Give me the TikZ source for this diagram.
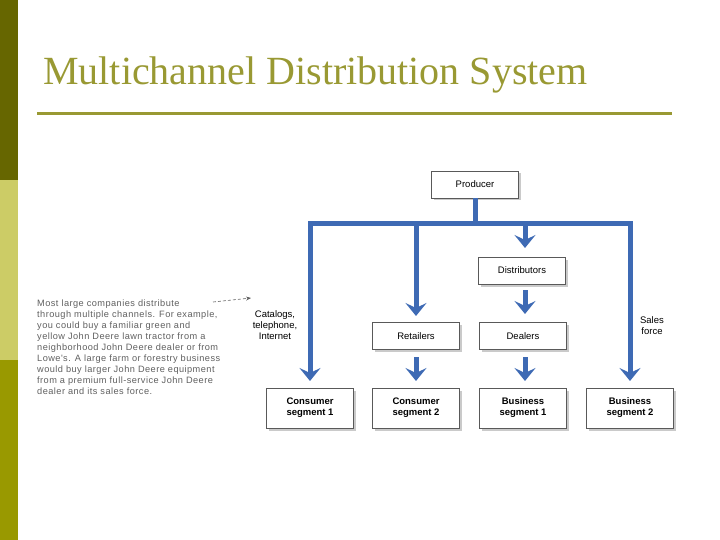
\documentclass[tikz,border=0pt]{standalone}
\usepackage{fontspec}
\setmainfont{Liberation Serif}
\newfontfamily\diagfont{Liberation Sans}
\newfontfamily\notefont[LetterSpace=5]{Liberation Sans}
\usetikzlibrary{arrows.meta,shadows}
\definecolor{barDark}{RGB}{102,102,0}
\definecolor{barLight}{RGB}{204,204,102}
\definecolor{barMid}{RGB}{153,153,0}
\definecolor{titleCol}{RGB}{153,153,51}
\definecolor{flowBlue}{RGB}{62,106,180}
\definecolor{noteGray}{RGB}{95,95,95}
\tikzset{
  box/.style={draw=black!65, line width=0.6pt, fill=white, minimum width=87pt, minimum height=27pt, inner sep=1pt,
    font=\diagfont\fontsize{9.5}{11}\selectfont, align=center,
    drop shadow={shadow xshift=2pt, shadow yshift=-2.5pt, opacity=0.35, fill=black!60}},
  segbox/.style={box, minimum height=40pt, font=\diagfont\bfseries\fontsize{9.5}{11}\selectfont},
  flow/.style={draw=flowBlue, line width=5pt},
  flowarr/.style={flow, -{Stealth[width=21pt,length=13pt,inset=5pt]}},
  lbl/.style={font=\diagfont\fontsize{9.5}{11}\selectfont, align=center, inner sep=0pt},
}
\begin{document}
\begin{tikzpicture}[x=1pt,y=-1pt]
\useasboundingbox (0,0) rectangle (720,540);
% left bar
\fill[barDark] (0,0) rectangle (18,180);
\fill[barLight] (0,180) rectangle (18,360);
\fill[barMid] (0,360) rectangle (18,540);
% title
\node[anchor=base west, inner sep=0pt, text=titleCol, font=\fontsize{40}{42}\selectfont] (title) at (43,85) {Multichannel Distribution System};
\draw[titleCol, line width=3pt] (37,114) -- (672,114);
% boxes
\node[box] (prod) at (475,184.5) {Producer};
\node[box] (dist) at (522,270.5) {Distributors};
\node[box] (ret) at (416,336) {Retailers};
\node[box] (deal) at (523,336) {Dealers};
\node[segbox] (c1) at (310,408) {Consumer\\segment 1};
\node[segbox] (c2) at (416,408) {Consumer\\segment 2};
\node[segbox] (b1) at (523,408) {Business\\segment 1};
\node[segbox] (b2) at (630,408) {Business\\segment 2};
% flows
\coordinate (hl) at (310,224);
\coordinate (hr) at (630,224);
\coordinate (hm) at (475,224);
\draw[flow] (prod.south) -- (hm);
\draw[flow, line join=miter] (310,370) -- (hl) -- (hr) -- (630,370);
\draw[flowarr] (hl) -- (310,381);
\draw[flowarr] (hr) -- (630,381);
\draw[flowarr] (416,224) -- (416,316);
\draw[flowarr] (525,224) -- (525,248);
\draw[flowarr] (525,290) -- (525,314);
\draw[flowarr] (416,357) -- (416,381);
\draw[flowarr] (525,357) -- (525,381);
% labels
\node[lbl] (chan) at (275,325) {Catalogs,\\telephone,\\Internet};
\node[lbl] (sales) at (652,326) {Sales\\force};
% note
\node[anchor=north west, inner sep=0pt, align=left, text=noteGray,
  font=\notefont\fontsize{9.2}{11}\selectfont] (note) at (37,300)
  {Most large companies distribute\\
   through multiple channels. For example,\\
   you could buy a familiar green and\\
   yellow John Deere lawn tractor from a\\
   neighborhood John Deere dealer or from\\
   Lowe's. A large farm or forestry business\\
   would buy larger John Deere equipment\\
   from a premium full-service John Deere\\
   dealer and its sales force.};
\coordinate (ns) at (213,302);
\coordinate (ne) at (251,298);
\draw[noteGray, dashed, dash pattern=on 3pt off 2pt, line width=0.6pt, -{Stealth[length=5pt,width=4pt]}] (ns) -- (ne);
\end{tikzpicture}
\end{document}
